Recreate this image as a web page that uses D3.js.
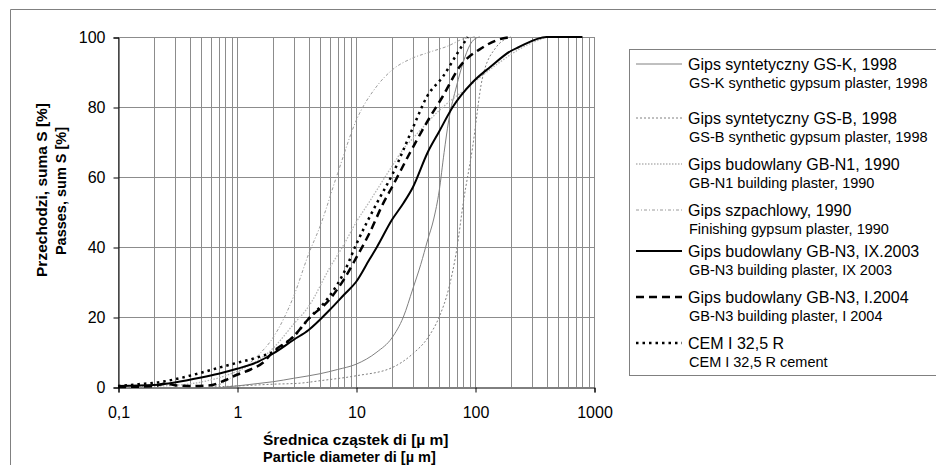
<!DOCTYPE html>
<html>
<head>
<meta charset="utf-8">
<script src="https://cdn.jsdelivr.net/npm/d3@7"></script>
<style>
body { margin: 0; background: #fff; }
text { font-family: "Liberation Sans", Arial, sans-serif; fill: #000; }
</style>
</head>
<body>
<div id="main_div"></div>
<script>
// particle size distributions
var gsk_d = [0.8, 1, 1.5, 2, 3, 5, 7, 10, 15, 20, 25, 30, 35, 40, 45, 50, 55, 60, 70, 80, 90, 100, 110];
var gsk_p = [0, 0.3, 1, 1.5, 2.5, 3.8, 5, 6.5, 10, 14, 20, 28, 35, 42, 48, 56, 67, 76, 86, 93, 97.5, 99.5, 100];

var gsb_d = [0.6, 1, 2, 3.4, 5, 10, 20, 30, 40, 50, 60, 70, 80, 95, 115, 150, 200];
var gsb_p = [0, 0.3, 0.8, 1.1, 1.8, 3.2, 5.5, 9.5, 14, 20, 28, 39, 53, 68, 88, 97, 100];

var gbn1_d = [0.1, 0.3, 0.6, 1, 2, 3, 4, 6, 8, 10, 13, 20, 25, 30, 50, 90, 150, 250, 400];
var gbn1_p = [0, 0.5, 2, 4.5, 11, 18, 23, 34, 41, 47, 53, 63, 68, 71, 79, 86, 92, 97, 100];

var szp_d = [0.6, 0.8, 1, 1.5, 2, 3, 4, 5, 7, 10, 15, 20, 30, 40, 60, 80, 100];
var szp_p = [0, 1.5, 4, 9, 14, 26, 38, 46, 61, 76, 86, 90.5, 94, 95.5, 97.5, 99.5, 100];

var n3a_d = [0.1, 0.2, 0.3, 0.5, 0.7, 1, 1.5, 2, 3, 4, 6, 8, 10, 13, 15, 20, 25, 30, 40, 50, 65, 95, 135, 200, 230, 400, 800];
var n3a_p = [0.3, 0.6, 1.3, 2.7, 3.8, 5.2, 7.2, 9.5, 13.5, 16.3, 22, 26.5, 30, 36.5, 40, 47.7, 52.5, 57, 67, 73, 80, 87, 91.5, 96, 97, 100, 100];

var n3b_d = [0.1, 0.2, 0.25, 0.3, 0.4, 0.6, 0.8, 1, 1.3, 1.66, 2, 3, 4, 6, 8, 10, 13, 17, 20, 28.5, 40, 53.5, 74, 116, 150, 200];
var n3b_p = [0, 0.2, 1.0, 0.5, 0.3, 0.5, 2, 3.5, 5, 7, 10, 14.5, 19.5, 25, 31, 36.8, 44, 52.6, 57, 67, 76, 83, 91.4, 97, 99, 100];

var cem_d = [0.1, 0.15, 0.225, 0.3, 0.49, 0.7, 1, 1.5, 2, 3, 4, 6, 8, 10, 15, 20.4, 30, 39.5, 53.5, 74, 87];
var cem_p = [0.3, 0.8, 1.4, 2.2, 4, 5.5, 6.9, 8.5, 10, 14.5, 19.5, 26, 33, 40.6, 52.6, 61, 74, 83, 88.6, 96.3, 100];

var x_ticks = [0.1, 1, 10, 100, 1000];
var x_tick_labels = ["0,1", "1", "10", "100", "1000"];
var y_ticks = [0, 20, 40, 60, 80, 100];

var legend_1 = ["Gips syntetyczny GS-K, 1998", "Gips syntetyczny GS-B, 1998", "Gips budowlany GB-N1, 1990",
    "Gips szpachlowy, 1990", "Gips budowlany GB-N3, IX.2003", "Gips budowlany GB-N3, I.2004", "CEM I 32,5 R"];
var legend_2 = ["GS-K synthetic gypsum plaster, 1998", "GS-B synthetic gypsum plaster, 1998", "GB-N1 building plaster, 1990",
    "Finishing gypsum plaster, 1990", "GB-N3 building plaster, IX 2003", "GB-N3 building plaster, I 2004", "CEM I 32,5 R cement"];

function zip(d, p) {
    return d.map(function(v, i) { return [v, p[i]]; });
}

var series = [
    {pts: zip(gsk_d, gsk_p), stroke: "#808080", width: 1, dash: null},
    {pts: zip(gsb_d, gsb_p), stroke: "#808080", width: 1, dash: "2,2"},
    {pts: zip(gbn1_d, gbn1_p), stroke: "#b4b4b4", width: 1.3, dash: "1.5,1.5"},
    {pts: zip(szp_d, szp_p), stroke: "#9a9a9a", width: 1, dash: "3,2,1,2"},
    {pts: zip(n3a_d, n3a_p), stroke: "#000", width: 2, dash: null},
    {pts: zip(n3b_d, n3b_p), stroke: "#000", width: 2.5, dash: "8,5"},
    {pts: zip(cem_d, cem_p), stroke: "#000", width: 2.5, dash: "2.5,4"}
];

var x_scale = d3.scaleLog().domain([0.1, 1000]).range([118, 594]);
var y_scale = d3.scaleLinear().domain([0, 100]).range([387, 37]);

var svg = d3.select("#main_div").append("svg").attr("width", 936).attr("height", 465);

// outer frame
svg.append("path").attr("d", "M10.5,465 V9.5 H936").attr("fill", "none").attr("stroke", "#808080");

// vertical grid at 1..9 of every decade
var minor = [];
[0.1, 1, 10, 100].forEach(function(dec) {
    for (var k = 1; k <= 10; k++) minor.push(dec * k);
});
svg.append("g").selectAll("line").data(minor).enter().append("line")
    .attr("x1", function(d) { return Math.round(x_scale(d)) + 0.5; })
    .attr("x2", function(d) { return Math.round(x_scale(d)) + 0.5; })
    .attr("y1", y_scale(100)).attr("y2", y_scale(0))
    .attr("stroke", "#8c8c8c").attr("stroke-width", 1);

svg.append("g").selectAll("line").data(y_ticks.slice(1)).enter().append("line")
    .attr("x1", x_scale(0.1)).attr("x2", x_scale(1000))
    .attr("y1", function(d) { return Math.round(y_scale(d)) + 0.5; })
    .attr("y2", function(d) { return Math.round(y_scale(d)) + 0.5; })
    .attr("stroke", "#8c8c8c").attr("stroke-width", 1);

// axes
var g_y = svg.append("g").attr("transform", "translate(118.5,0.5)")
    .call(d3.axisLeft(y_scale).tickValues(y_ticks).tickSize(5).tickPadding(8).tickFormat(d3.format("d")));
var g_x = svg.append("g").attr("transform", "translate(0.5,387.5)")
    .call(d3.axisBottom(x_scale).tickValues(x_ticks).tickSize(5).tickPadding(14)
        .tickFormat(function(d, i) { return x_tick_labels[i]; }));
[g_x, g_y].forEach(function(g) {
    g.selectAll("text").style("font-size", "16px").style("font-family", "Liberation Sans, Arial, sans-serif");
    g.selectAll("line, path").attr("stroke", "#000");
});

// curves
var line = d3.line()
    .x(function(d) { return x_scale(d[0]); })
    .y(function(d) { return y_scale(d[1]); })
    .curve(d3.curveMonotoneX);

svg.append("g").selectAll("path").data(series).enter().append("path")
    .attr("d", function(d) { return line(d.pts); })
    .attr("fill", "none")
    .attr("stroke", function(d) { return d.stroke; })
    .attr("stroke-width", function(d) { return d.width; })
    .attr("stroke-dasharray", function(d) { return d.dash; });

// axis titles (second language line is a bit smaller)
var ty = svg.append("g").attr("font-weight", "bold");
ty.append("text").attr("transform", "translate(47,190) rotate(-90)").attr("text-anchor", "middle")
    .attr("font-size", "15.5px").text("Przechodzi, suma S [%]");
ty.append("text").attr("transform", "translate(66,191) rotate(-90)").attr("text-anchor", "middle")
    .attr("font-size", "14.5px").text("Passes, sum S [%]");
ty.append("text").attr("x", 263).attr("y", 445).attr("font-size", "15.5px").text("Średnica cząstek di [µ m]");
ty.append("text").attr("x", 263).attr("y", 462).attr("font-size", "14.5px").text("Particle diameter di [µ m]");

// legend
var leg_y1 = [64, 118, 164, 210, 251, 297, 343];
var leg_y2 = [83, 137, 183, 229, 270, 316, 362];
var leg = svg.append("g");
leg.append("rect").attr("x", 629.5).attr("y", 49.5).attr("width", 320).attr("height", 326)
    .attr("fill", "#fff").attr("stroke", "#808080");
var item = leg.selectAll("g.item").data(series).enter().append("g").attr("class", "item");
item.append("line")
    .attr("x1", 636).attr("x2", 682)
    .attr("y1", function(d, i) { return leg_y1[i]; })
    .attr("y2", function(d, i) { return leg_y1[i]; })
    .attr("stroke", function(d) { return d.stroke; })
    .attr("stroke-width", function(d) { return d.width; })
    .attr("stroke-dasharray", function(d) { return d.dash; });
item.append("text").attr("x", 688).attr("y", function(d, i) { return leg_y1[i] + 5.5; })
    .attr("font-size", "16px").text(function(d, i) { return legend_1[i]; });
item.append("text").attr("x", 689).attr("y", function(d, i) { return leg_y2[i] + 5; })
    .attr("font-size", "14.5px").text(function(d, i) { return legend_2[i]; });
</script>
</body>
</html>
